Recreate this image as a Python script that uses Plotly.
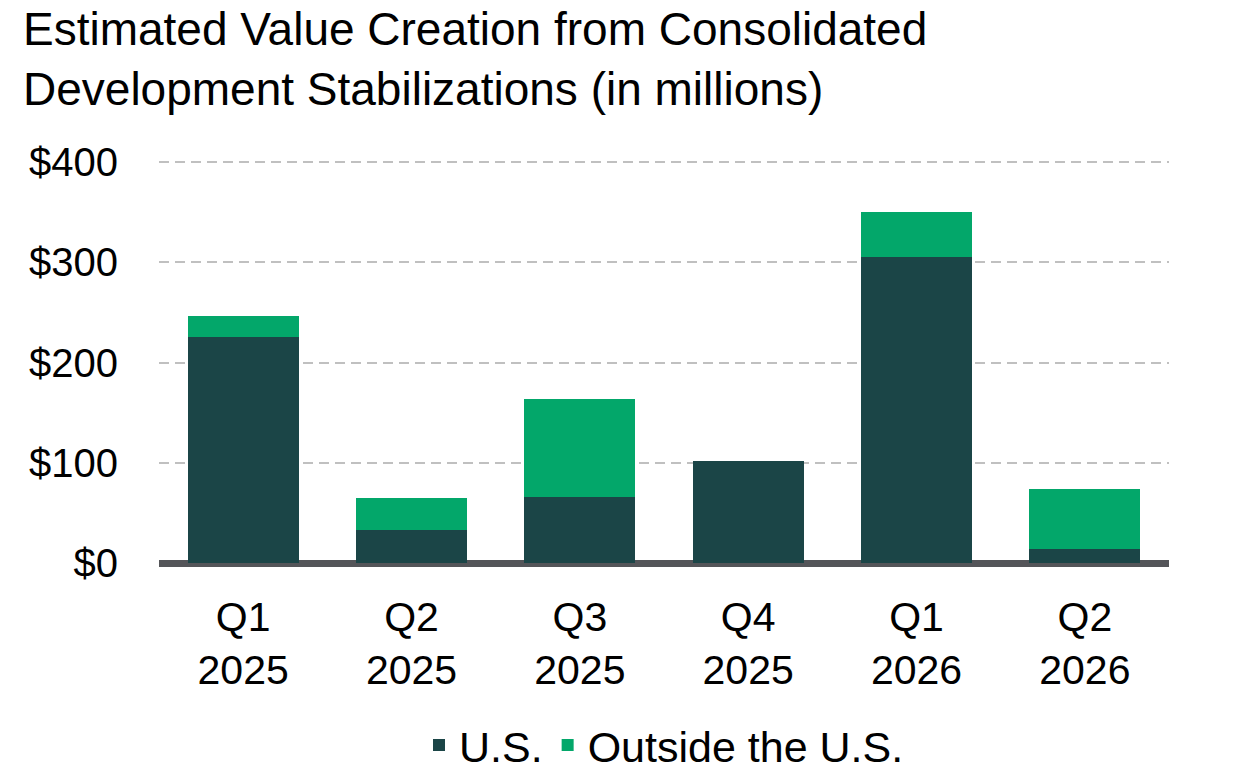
import plotly.graph_objects as go

categories = ["Q1<br>2025", "Q2<br>2025", "Q3<br>2025", "Q4<br>2025", "Q1<br>2026", "Q2<br>2026"]
us_values = [225, 33, 66, 102, 305, 14]
outside_values = [21, 32, 98, 0, 45, 60]
y_tick_vals = [0, 100, 200, 300, 400]
y_tick_text = ["$0", "$100", "$200", "$300", "$400"]

FONT = "Liberation Sans, Arial, sans-serif"

fig = go.Figure()
fig.add_trace(go.Bar(x=categories, y=us_values, name="U.S.",
                     marker=dict(color="#1b4547", line=dict(width=0))))
fig.add_trace(go.Bar(x=categories, y=outside_values, name="Outside the U.S.",
                     marker=dict(color="#03a76a", line=dict(width=0))))

# page body adds an 8px offset, so the figure is sized to fit the 1241x779 window
fig.update_layout(
    width=1233, height=771,
    barmode="stack", bargap=0.34,
    paper_bgcolor="white", plot_bgcolor="white",
    font=dict(family=FONT, color="#000000", size=40),
    margin=dict(l=151, r=72, t=149, b=216, autoexpand=False),
    title=dict(text="Estimated Value Creation from Consolidated<br>Development Stabilizations (in millions)",
               x=15/1233, xanchor="left", xref="container",
               y=0.9521, yanchor="top", yref="container",
               font=dict(size=46, family=FONT, color="#000000")),
    showlegend=True,
    legend=dict(orientation="h", x=0.5, xanchor="center", xref="paper",
                y=1 - 737/771, yanchor="middle", yref="container",
                font=dict(size=43, family=FONT), traceorder="normal",
                bgcolor="rgba(0,0,0,0)"),
    xaxis=dict(showgrid=False, showline=False, zeroline=False, ticks="",
               tickfont=dict(size=41), ticklabelstandoff=26, automargin=False),
    yaxis=dict(range=[0, 405], tickvals=y_tick_vals, ticktext=y_tick_text,
               showgrid=True, gridcolor="#c0c0c0", gridwidth=2, griddash="10px,6px",
               zeroline=True, zerolinecolor="#545559", zerolinewidth=7,
               showline=False, ticks="", tickfont=dict(size=40),
               ticklabelstandoff=40, layer="above traces", automargin=False),
)

fig.write_html("out.html")
